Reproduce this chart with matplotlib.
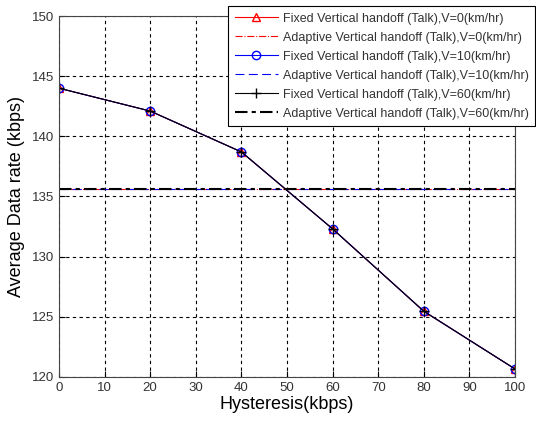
import numpy as np
import matplotlib.pyplot as plt

plt.rcParams['font.family'] = ['Liberation Sans', 'DejaVu Sans']

hysteresis = [0, 20, 40, 60, 80, 100]
fixed_v0 = [144.0, 142.1, 138.7, 132.3, 125.45, 120.65]
fixed_v10 = [144.0, 142.1, 138.7, 132.3, 125.45, 120.65]
fixed_v60 = [144.0, 142.1, 138.7, 132.3, 125.45, 120.65]
adaptive_v0 = [135.6, 135.6]
adaptive_v10 = [135.6, 135.6]
adaptive_v60 = [135.6, 135.6]
adaptive_x = [0, 100]

fig = plt.figure(figsize=(5.36, 4.22), dpi=100)
ax = fig.add_axes([0.110, 0.107, 0.851, 0.855])

ax.plot(hysteresis, fixed_v0, color='red', lw=0.8, marker='^', ms=6, mfc='none',
        label='Fixed Vertical handoff (Talk),V=0(km/hr)')
ax.plot(adaptive_x, adaptive_v0, color='red', lw=0.8, ls='-.',
        label='Adaptive Vertical handoff (Talk),V=0(km/hr)')
ax.plot(hysteresis, fixed_v10, color='blue', lw=0.8, marker='o', ms=6, mfc='none',
        label='Fixed Vertical handoff (Talk),V=10(km/hr)')
ax.plot(adaptive_x, adaptive_v10, color='blue', lw=0.8, ls=(0, (8, 4)),
        label='Adaptive Vertical handoff (Talk),V=10(km/hr)')
ax.plot(hysteresis, fixed_v60, color='black', lw=0.8, marker='+', ms=7,
        label='Fixed Vertical handoff (Talk),V=60(km/hr)')
ax.plot(adaptive_x, adaptive_v60, color='black', lw=1.5, ls=(0, (6, 2, 2, 2)),
        label='Adaptive Vertical handoff (Talk),V=60(km/hr)')

ax.set_xlim(0, 100)
ax.set_ylim(120, 150)
ax.set_xticks(np.arange(0, 101, 10))
ax.set_yticks(np.arange(120, 151, 5))
ax.grid(True, color='black', ls=(0, (3, 3)), lw=0.8)
ax.tick_params(direction='in', labelsize=9.5, labelcolor='#333333', length=4)
for s in ax.spines.values():
    s.set_color('#444444')

ax.set_xlabel('Hysteresis(kbps)', fontsize=13, labelpad=2)
ax.set_ylabel('Average Data rate (kbps)', fontsize=13, labelpad=5)

leg = ax.legend(loc='upper right', bbox_to_anchor=(0.999, 0.985),
                bbox_transform=fig.transFigure, fontsize=9, frameon=True,
                fancybox=False, edgecolor='black', framealpha=1,
                borderpad=0.5, labelspacing=0.56, handlelength=3.5,
                handletextpad=0.4, borderaxespad=0)
leg.get_frame().set_linewidth(0.8)
for t in leg.get_texts():
    t.set_color('#333333')

fig.savefig('out.png', dpi=100)
